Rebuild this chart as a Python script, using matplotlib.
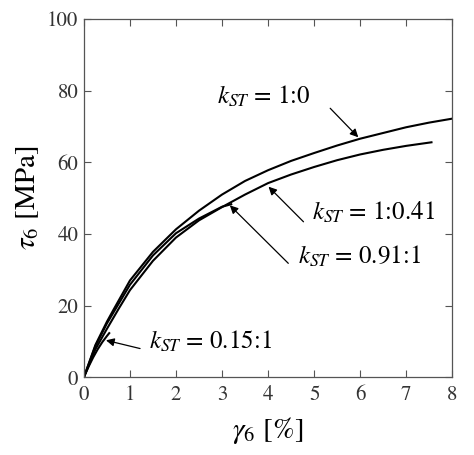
import matplotlib
matplotlib.use("Agg")
import matplotlib.pyplot as plt

plt.rcParams['font.family'] = 'STIXGeneral'
plt.rcParams['mathtext.fontset'] = 'stix'

# curves: shear strain [%] vs shear stress [MPa]
x_10 = [0, 0.25, 0.5, 0.65, 1, 1.5, 2, 2.5, 3, 3.5, 4, 4.5, 5, 5.5, 6, 6.5, 7, 7.5, 8]
y_10 = [0, 9, 15.5, 19, 27, 35, 41.3, 46.5, 51, 54.8, 57.8, 60.4, 62.6, 64.7, 66.6, 68.2, 69.8, 71.1, 72.2]

x_1041 = [0, 0.25, 0.5, 0.75, 1, 1.5, 2, 2.5, 3, 3.5, 4, 4.5, 5, 5.5, 6, 6.5, 7, 7.55]
y_1041 = [0, 7.8, 13.5, 19, 24.3, 32.5, 39, 43.8, 47.5, 51, 54.2, 56.6, 58.7, 60.6, 62.2, 63.5, 64.6, 65.6]

x_0911 = [0, 0.25, 0.5, 1, 1.5, 2, 2.5, 3, 3.2]
y_0911 = [0, 8.7, 15, 25.8, 34, 40.2, 44.3, 47.6, 48.3]

x_0151 = [0, 0.1, 0.2, 0.3, 0.4, 0.5, 0.55]
y_0151 = [0, 2.9, 5.5, 7.8, 9.8, 11.5, 12.3]

labels = [r'$k_{ST}$ = 1:0', r'$k_{ST}$ = 1:0.41', r'$k_{ST}$ = 0.91:1', r'$k_{ST}$ = 0.15:1']
arrow_tips = [(5.96, 67.0), (4.01, 53.2), (3.17, 48.0), (0.48, 10.3)]
text_pos = [(2.89, 78.2), (4.95, 45.8), (4.65, 33.6), (1.41, 9.9)]
arrow_tails = [(5.35, 75.1), (4.77, 43.4), (4.44, 31.8), (1.22, 8.0)]

fig = plt.figure(figsize=(4.74, 4.55), dpi=100)
ax = fig.add_axes([0.177, 0.171, 0.777, 0.787])

for xs, ys in [(x_10, y_10), (x_1041, y_1041), (x_0911, y_0911), (x_0151, y_0151)]:
    ax.plot(xs, ys, color='black', lw=1.5)

for lab, tip, tail, tp in zip(labels, arrow_tips, arrow_tails, text_pos):
    ax.annotate('', xy=tip, xytext=tail,
                arrowprops=dict(arrowstyle='-|>', color='black', lw=0.9,
                                mutation_scale=12, shrinkA=0, shrinkB=0))
    ax.text(tp[0], tp[1], lab, fontsize=18, va='center', ha='left', zorder=5,
            clip_on=False,
            bbox=dict(facecolor='white', edgecolor='none', pad=1))

ax.set_xlim(0, 8)
ax.set_ylim(0, 100)
ax.set_xticks(range(0, 9))
ax.set_yticks(range(0, 101, 20))
ax.tick_params(direction='in', top=True, right=True, length=5, width=0.8,
               color='#555555', labelcolor='#333333', labelsize=15)
ax.tick_params(axis='x', pad=6)
ax.tick_params(axis='y', pad=4)
for s in ax.spines.values():
    s.set_color('#555555')
    s.set_linewidth(0.9)

ax.set_xlabel(r'$\gamma_6$ [%]', fontsize=21, labelpad=7)
ax.set_ylabel(r'$\tau_6$ [MPa]', fontsize=21, labelpad=4)

fig.savefig('out.png', dpi=100)
